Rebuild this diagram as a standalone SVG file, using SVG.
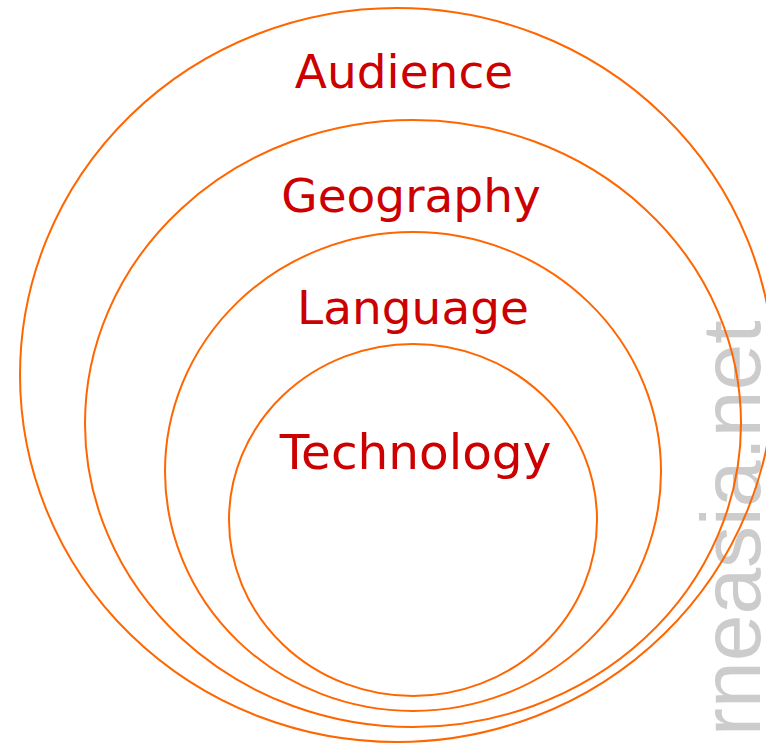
<svg xmlns="http://www.w3.org/2000/svg" width="766" height="744" viewBox="0 0 766 744">
<style>
.ring{fill:none;stroke:#ff6600;stroke-width:2}
.lbl{font-family:"DejaVu Sans",Verdana,sans-serif;font-size:47px;fill:#cc0000;text-anchor:middle}
.wm{font-family:"Liberation Sans",Arial,sans-serif;font-size:84px;fill:#cccccc}
</style>
<rect width="766" height="744" fill="#ffffff"/>
<text class="wm" transform="translate(760,736) rotate(-90)">rneasia.net</text>
<g id="audience">
<ellipse class="ring" cx="397" cy="375" rx="377" ry="367"/>
<text class="lbl" x="404" y="88">Audience</text>
</g>
<g id="geography">
<ellipse class="ring" cx="413" cy="423.5" rx="328" ry="303.5"/>
<text class="lbl" x="411" y="212">Geography</text>
</g>
<g id="language">
<ellipse class="ring" cx="413" cy="471.5" rx="248" ry="239.5"/>
<text class="lbl" x="413" y="324">Language</text>
</g>
<g id="technology">
<ellipse class="ring" cx="413" cy="520" rx="184" ry="176"/>
<text class="lbl" x="415.5" y="469" style="font-size:48.5px">Technology</text>
</g>
<g id="connectors"/>
</svg>
